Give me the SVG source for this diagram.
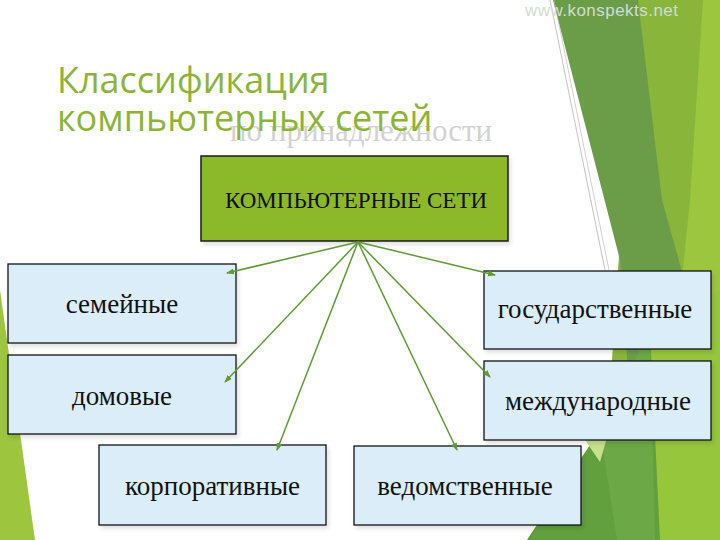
<svg xmlns="http://www.w3.org/2000/svg" width="720" height="540" viewBox="0 0 720 540">
  <defs>
    <style>
      .title { font-family: "Open Sans", "Liberation Sans", sans-serif; font-size: 36px; fill: #8cb43a; }
      .sub { font-family: "Liberation Serif", serif; font-size: 31px; fill: #d2d2d2; }
      .box { fill: #dcedfa; stroke: #111; stroke-width: 1.3; filter: url(#sh); }
      .lbl { font-family: "Liberation Serif", "Times New Roman", serif; font-size: 27px; fill: #111; text-anchor: middle; }
      .conn { stroke: #5f9a35; stroke-width: 1.5; fill: none; marker-end: url(#arr); }
      .wm { font-family: "Liberation Sans", sans-serif; font-size: 17px; fill: #d0dcd4; }
    </style>
    <filter id="sh" x="-5%" y="-5%" width="115%" height="125%">
      <feDropShadow dx="2" dy="3" stdDeviation="2" flood-color="#000" flood-opacity="0.12"/>
    </filter>
    <marker id="arr" markerUnits="userSpaceOnUse" markerWidth="8" markerHeight="6" refX="7" refY="3" orient="auto">
      <path d="M0,0 L8,3 L0,6 z" fill="#5f9a35"/>
    </marker>
  </defs>

  <rect width="720" height="540" fill="#ffffff"/>

  <!-- decorative background facets -->
  <g id="background">
    <polygon points="0,290 35,540 0,540" fill="#9dc53e"/>
    <polygon points="636,0 720,0 720,540 600,540" fill="#89b63a"/>
    <polygon points="703,0 720,0 720,540 655,540 690,200" fill="#9dc63f"/>
    <polygon points="553,0 638,0 662,200 690,300 672,540 640,540 620,260" fill="#6b9d48"/>
    <polygon points="527,540 600,430 650,330 700,300 720,290 720,540" fill="#96c63c"/>
    <polygon points="527,540 600,430 650,330 660,540" fill="#62a03e"/>
    <polygon points="600,430 650,330 655,540 617,540" fill="#6ca845"/>
    <polygon points="585,440 612,420 600,462" fill="#c6e08c"/>
    <line x1="550" y1="0" x2="605" y2="270" stroke="#9a9a9a" stroke-width="0.6"/>
    <line x1="554" y1="0" x2="609" y2="270" stroke="#b0b0b0" stroke-width="0.6"/>
    <text class="wm" x="525" y="16" textLength="153">www.konspekts.net</text>
  </g>

  <g id="title">
    <text class="sub" x="230" y="141">по принадлежности</text>
    <text class="title" x="57" y="93">Классификация</text>
    <text class="title" x="57" y="131">компьютерных сетей</text>
  </g>

  <g id="root">
    <rect x="201" y="156" width="307" height="85" fill="#8cb92b" stroke="#1a1a1a" stroke-width="1.5" filter="url(#sh)"/>
    <text x="356" y="208" font-family="Liberation Serif, serif" font-size="23" fill="#111" text-anchor="middle">КОМПЬЮТЕРНЫЕ СЕТИ</text>
  </g>

  <g id="family">
    <rect class="box" x="8" y="264" width="228" height="79"/>
    <text class="lbl" x="122" y="313">семейные</text>
  </g>
  <g id="home">
    <rect class="box" x="8" y="355" width="228" height="79"/>
    <text class="lbl" x="122" y="405">домовые</text>
  </g>
  <g id="corporate">
    <rect class="box" x="99" y="445" width="227" height="80"/>
    <text class="lbl" x="212.5" y="495">корпоративные</text>
  </g>
  <g id="state">
    <rect class="box" x="484" y="271" width="227" height="78"/>
    <text class="lbl" x="595" y="318">государственные</text>
  </g>
  <g id="international">
    <rect class="box" x="484" y="361" width="227" height="79"/>
    <text class="lbl" x="598" y="410">международные</text>
  </g>
  <g id="departmental">
    <rect class="box" x="354" y="446" width="227" height="79"/>
    <text class="lbl" x="465" y="495">ведомственные</text>
  </g>

  <g id="connectors">
    <line class="conn" x1="358" y1="242" x2="227" y2="273"/>
    <line class="conn" x1="358" y1="242" x2="225" y2="382"/>
    <line class="conn" x1="358" y1="242" x2="277" y2="450"/>
    <line class="conn" x1="358" y1="242" x2="495" y2="275"/>
    <line class="conn" x1="358" y1="242" x2="490" y2="377"/>
    <line class="conn" x1="358" y1="242" x2="457" y2="450"/>
  </g>
</svg>
